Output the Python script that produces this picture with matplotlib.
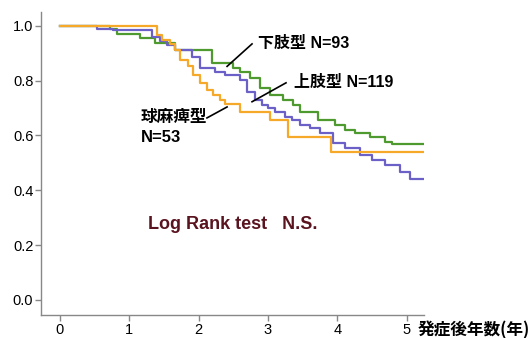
import matplotlib
matplotlib.use("Agg")
import matplotlib.pyplot as plt

plt.rcParams['font.family'] = ['Liberation Sans', 'Noto Sans CJK JP', 'DejaVu Sans']

# Data (years, survival)
green_t = [0, 0.72, 0.82, 1.15, 1.37, 1.66, 2.19, 2.50, 2.60, 2.74, 2.89, 3.03, 3.22, 3.36, 3.46, 3.72, 3.97, 4.11, 4.26, 4.47, 4.69, 4.79, 5.25]
green_s = [1.0, 0.99, 0.971, 0.956, 0.938, 0.912, 0.865, 0.847, 0.832, 0.810, 0.774, 0.748, 0.730, 0.712, 0.686, 0.657, 0.639, 0.620, 0.609, 0.595, 0.577, 0.569, 0.569]

orange_t = [0, 1.40, 1.47, 1.59, 1.66, 1.73, 1.85, 1.92, 2.02, 2.12, 2.21, 2.31, 2.38, 2.60, 3.03, 3.29, 3.91, 5.25]
orange_s = [1.0, 0.967, 0.949, 0.934, 0.912, 0.876, 0.854, 0.821, 0.792, 0.766, 0.748, 0.730, 0.715, 0.686, 0.657, 0.595, 0.540, 0.540]

blue_t = [0, 0.53, 0.76, 1.33, 1.44, 1.54, 1.66, 1.90, 2.02, 2.24, 2.38, 2.60, 2.70, 2.81, 2.92, 3.00, 3.10, 3.25, 3.35, 3.46, 3.61, 3.75, 3.94, 4.11, 4.33, 4.50, 4.69, 4.91, 5.05, 5.25]
blue_s = [1.0, 0.99, 0.985, 0.96, 0.945, 0.93, 0.912, 0.887, 0.847, 0.832, 0.821, 0.803, 0.759, 0.730, 0.712, 0.700, 0.686, 0.668, 0.657, 0.639, 0.628, 0.609, 0.573, 0.555, 0.529, 0.511, 0.493, 0.467, 0.442, 0.442]

xticks = [0, 1, 2, 3, 4, 5]
yticks = [0.0, 0.2, 0.4, 0.6, 0.8, 1.0]

fig = plt.figure(figsize=(5.32, 3.38), dpi=100)
ax = fig.add_axes([0.077, 0.068, 0.72, 0.897])

ax.step(green_t, green_s, where='post', color='#4f9a2f', lw=1.6)
ax.step(blue_t, blue_s, where='post', color='#6a60c8', lw=1.6)
ax.step(orange_t, orange_s, where='post', color='#f6a928', lw=1.6)

ax.set_xlim(-0.274, 5.25)
ax.set_ylim(-0.055, 1.051)
ax.set_xticks(xticks)
ax.set_xticklabels([str(v) for v in xticks])
ax.set_yticks(yticks)
ax.set_yticklabels([f"{v:.1f}" for v in yticks])
for s in ['top', 'right']:
    ax.spines[s].set_visible(False)
for s in ['left', 'bottom']:
    ax.spines[s].set_color('#888888')
    ax.spines[s].set_linewidth(1.0)
ax.tick_params(axis='both', colors='#888888', labelcolor='black', length=4, width=1.0, labelsize=10.5, pad=1.5)

bold_jp = dict(family=['Liberation Sans', 'Noto Sans CJK JP'], fontweight='bold', fontsize=11.5, color='black')

# annotations (in data coordinates)
ax.plot([2.41, 2.77], [0.852, 0.934], color='black', lw=1.2)
ax.text(2.86, 0.934, '下肢型 N=93', va='center', ha='left', **bold_jp)
ax.plot([2.77, 3.26], [0.723, 0.792], color='black', lw=1.2)
ax.text(3.37, 0.792, '上肢型 N=119', va='center', ha='left', **bold_jp)
ax.plot([2.12, 2.41], [0.664, 0.704], color='black', lw=1.2)
bold_jp2 = dict(bold_jp, fontsize=12)
ax.text(1.16, 0.664, '球麻痺型', va='center', ha='left', **bold_jp2)
ax.text(1.16, 0.593, 'N=53', va='center', ha='left', **bold_jp2)

ax.text(1.27, 0.277, 'Log Rank test   N.S.', va='center', ha='left',
        fontsize=13, fontweight='bold', color='#5a1420')

fig.text(418/532, 1 - 330/338, '発症後年数(年)', va='center', ha='left',
         family=['Noto Sans CJK JP'], fontweight='bold', fontsize=12, color='black')

fig.savefig('out.png', dpi=100)
